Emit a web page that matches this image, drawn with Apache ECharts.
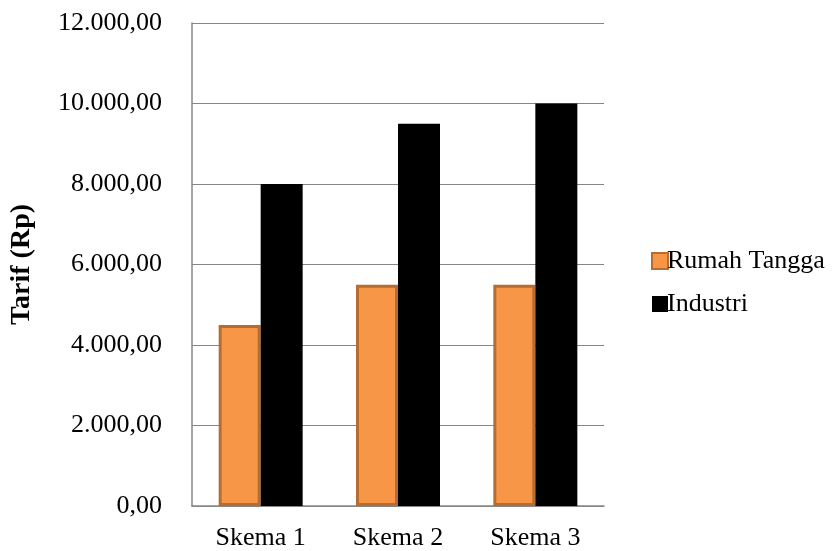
<!DOCTYPE html>
<html>
<head>
<meta charset="utf-8">
<script src="https://cdn.jsdelivr.net/npm/echarts@6/dist/echarts.min.js"></script>
<style>
  html, body { margin: 0; padding: 0; background: #fff; }
  #chart { width: 834px; height: 551px; }
</style>
</head>
<body>
<div id="chart"></div>
<script>
// Tariff per scheme for households and industry
const categories = ['Skema 1', 'Skema 2', 'Skema 3'];
const rumahTangga = [4500, 5500, 5500];
const industri = [8000, 9500, 10000];

// Indonesian number style: 12.000,00
function formatRp(v) {
  const parts = v.toFixed(2).split('.');
  const intPart = parts[0].replace(/\B(?=(\d{3})+(?!\d))/g, '.');
  return intPart + ',' + parts[1];
}

const chart = echarts.init(document.getElementById('chart'));
const serif = 'Liberation Serif, Times New Roman, serif';

chart.setOption({
  animation: false,
  grid: { left: 192, top: 23, width: 412, height: 484, containLabel: false },
  legend: {
    orient: 'vertical',
    left: 646,
    top: 243,
    itemGap: 17,
    itemWidth: 16,
    itemHeight: 16,
    icon: 'rect',
    textStyle: { fontFamily: serif, fontSize: 26, color: '#000', padding: [0, 0, 0, -6] },
    data: ['Rumah Tangga', 'Industri']
  },
  xAxis: {
    type: 'category',
    data: categories,
    axisLine: { lineStyle: { color: '#868686', width: 1.5 } },
    axisTick: { show: false },
    axisLabel: { fontFamily: serif, fontSize: 26, color: '#000', margin: 19 }
  },
  yAxis: {
    type: 'value',
    min: 0,
    max: 12000,
    interval: 2000,
    name: 'Tarif (Rp)',
    nameLocation: 'middle',
    nameGap: 156,
    nameTextStyle: { fontFamily: serif, fontSize: 28, fontWeight: 'bold', color: '#000' },
    axisLine: { show: true, lineStyle: { color: '#868686', width: 1.5 } },
    axisTick: { show: false },
    splitLine: { lineStyle: { color: '#868686', width: 1.2 } },
    axisLabel: {
      fontFamily: serif, fontSize: 26, color: '#000', margin: 30,
      formatter: formatRp
    }
  },
  series: [
    {
      name: 'Rumah Tangga',
      type: 'bar',
      data: rumahTangga,
      barWidth: 42,
      barGap: '0%',
      itemStyle: { color: '#f79646', borderColor: '#b66d31', borderWidth: 3 }
    },
    {
      name: 'Industri',
      type: 'bar',
      data: industri,
      barWidth: 42,
      barGap: '0%',
      itemStyle: { color: '#000000' }
    }
  ]
});
</script>
</body>
</html>
